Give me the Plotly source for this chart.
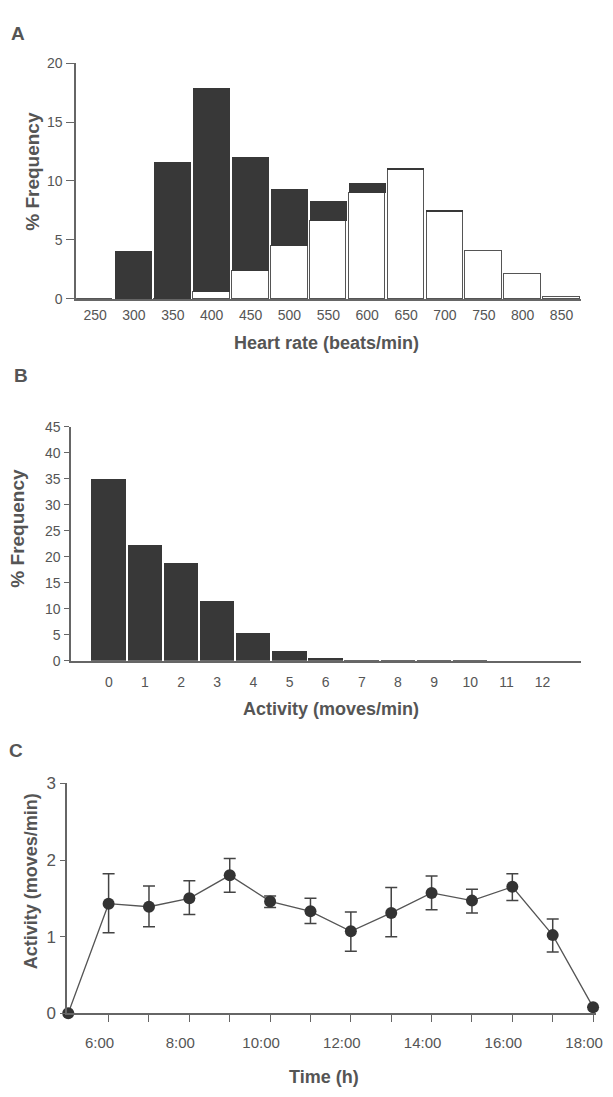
import plotly.graph_objects as go

# ---------------- data ----------------
# Panel A: heart-rate histogram (stacked: white lower part, dark upper part)
hr_bins = [250, 300, 350, 400, 450, 500, 550, 600, 650, 700, 750, 800, 850]
hr_white = [0, 0, 0, 0.55, 2.35, 4.5, 6.6, 9.0, 10.95, 7.36, 4.03, 2.08, 0.12]
hr_dark = [None, 4.08, 11.6, 17.31, 9.71, 4.8, 1.68, 0.86, 0.15, 0.2, None, None, None]

# Panel B: activity histogram
act_bins = [0, 1, 2, 3, 4, 5, 6, 7, 8, 9, 10, 11, 12]
act_freq = [35.1, 22.4, 18.9, 11.5, 5.5, 1.9, 0.7, 0.25, 0.1, 0.05, 0.04, 0.03, 0.03]

# Panel C: activity over the day (mean with upper/lower error limits)
hours = [5, 6, 7, 8, 9, 10, 11, 12, 13, 14, 15, 16, 17, 18]
act_mean = [0, 1.43, 1.39, 1.50, 1.80, 1.46, 1.33, 1.07, 1.31, 1.57, 1.47, 1.65, 1.02, 0.08]
act_upper = [None, 1.82, 1.66, 1.73, 2.02, 1.53, 1.50, 1.32, 1.64, 1.79, 1.62, 1.82, 1.23, None]
act_lower = [None, 1.05, 1.13, 1.29, 1.58, 1.38, 1.17, 0.81, 1.00, 1.35, 1.31, 1.47, 0.80, None]
time_ticks = [6, 8, 10, 12, 14, 16, 18]
time_labels = ["6:00", "8:00", "10:00", "12:00", "14:00", "16:00", "18:00"]
time_minor = [7, 9, 11, 13, 15, 17]

# ---------------- styling ----------------
W, H = 613, 1097
FONT = "Liberation Sans, Arial, sans-serif"
TXT = "#555555"
AX = "#666666"
DARK = "#383838"


def px_x(p):
    return p / W


def px_y(p):
    return 1 - p / H


err_plus = [None if u is None else u - m for u, m in zip(act_upper, act_mean)]
err_minus = [None if l is None else m - l for l, m in zip(act_lower, act_mean)]

fig = go.Figure()

# Panel A
fig.add_trace(go.Bar(x=hr_bins, y=hr_white, width=47, marker=dict(color="white", line=dict(color="#555555", width=1.5)),
                     xaxis="x", yaxis="y", showlegend=False))
fig.add_trace(go.Bar(x=hr_bins, y=hr_dark, width=47.5, marker=dict(color=DARK, line=dict(width=0)),
                     xaxis="x", yaxis="y", showlegend=False))

# Panel B
fig.add_trace(go.Bar(x=act_bins, y=act_freq, width=0.95, marker=dict(color=DARK, line=dict(width=0)),
                     xaxis="x2", yaxis="y2", showlegend=False))

# Panel C
fig.add_trace(go.Scatter(x=hours, y=act_mean, mode="lines+markers",
                         line=dict(color="#555555", width=1.3),
                         marker=dict(color="#333333", size=12),
                         error_y=dict(type="data", array=err_plus, arrayminus=err_minus, symmetric=False,
                                      color="#444444", thickness=1.5, width=6),
                         cliponaxis=False, xaxis="x3", yaxis="y3", showlegend=False))

tickfont = dict(family=FONT, size=14, color=TXT)

fig.update_layout(
    width=W, height=H, margin=dict(l=0, r=0, t=0, b=0),
    paper_bgcolor="white", plot_bgcolor="white",
    barmode="stack", bargap=0,
    font=dict(family=FONT, color=TXT),
    xaxis=dict(domain=[px_x(77), px_x(588)], range=[225.6, 875.4], anchor="y",
               tickmode="array", tickvals=hr_bins, ticks="", showgrid=False, zeroline=False,
               showline=True, linecolor=AX, linewidth=1.5, tickfont=tickfont, ticklabelstandoff=3),
    yaxis=dict(domain=[px_y(295), px_y(55)], range=[0, 20], anchor="x",
               tickvals=[0, 5, 10, 15, 20], ticks="outside", ticklen=8, tickcolor=AX, tickwidth=1.3,
               showgrid=False, zeroline=False, showline=True, linecolor=AX, linewidth=1.5,
               tickfont=tickfont, ticklabelstandoff=1),
    xaxis2=dict(domain=[px_x(72), px_x(588)], range=[-1.04, 13.07], anchor="y2",
                tickmode="array", tickvals=act_bins, ticks="", showgrid=False, zeroline=False,
                showline=True, linecolor=AX, linewidth=1.5, tickfont=tickfont, ticklabelstandoff=8),
    yaxis2=dict(domain=[px_y(663.3), px_y(425)], range=[0, 45], anchor="x2",
                tickvals=[0, 5, 10, 15, 20, 25, 30, 35, 40, 45], ticks="outside", ticklen=5, tickcolor=AX,
                tickwidth=1.3, showgrid=False, zeroline=False, showline=True, linecolor=AX, linewidth=1.5,
                tickfont=tickfont, ticklabelstandoff=1),
    xaxis3=dict(domain=[px_x(68), px_x(603)], range=[4.975, 18.075], anchor="y3",
                tickmode="array", tickvals=time_ticks, ticktext=time_labels,
                ticks="outside", ticklen=7, tickcolor=AX, tickwidth=1.3,
                minor=dict(tickvals=time_minor, ticks="outside", ticklen=7, tickcolor=AX, tickwidth=1.3),
                showgrid=False, zeroline=False, showline=True, linecolor=AX, linewidth=1.5,
                tickfont=dict(family=FONT, size=15, color=TXT), ticklabelstandoff=8,
                ticklabelshift=-9),
    yaxis3=dict(domain=[px_y(1022), px_y(788)], range=[0, 3], anchor="x3",
                tickvals=[0, 1, 2, 3], ticks="outside", ticklen=5, tickcolor=AX, tickwidth=1.3,
                showgrid=False, zeroline=False, showline=True, linecolor=AX, linewidth=1.5,
                tickfont=dict(family=FONT, size=17, color=TXT), ticklabelstandoff=1),
)


def ann(text, x, y, size=18, angle=0):
    fig.add_annotation(text=text, x=px_x(x), y=px_y(y), xref="paper", yref="paper",
                       xanchor="center", yanchor="middle", showarrow=False, textangle=angle,
                       font=dict(family=FONT, size=size, color=TXT, weight="bold"))


ann("A", 18, 25, 19)
ann("B", 21, 373, 19)
ann("C", 16, 755, 19)
ann("% Frequency", 33, 165, 19, -90)
ann("Heart rate (beats/min)", 330, 340, 18)
ann("% Frequency", 18, 528, 19, -90)
ann("Activity (moves/min)", 335, 712, 18)
ann("Activity (moves/min)", 31, 888, 18, -90)
ann("Time (h)", 328, 1087, 18)

fig.write_html("out.html")
